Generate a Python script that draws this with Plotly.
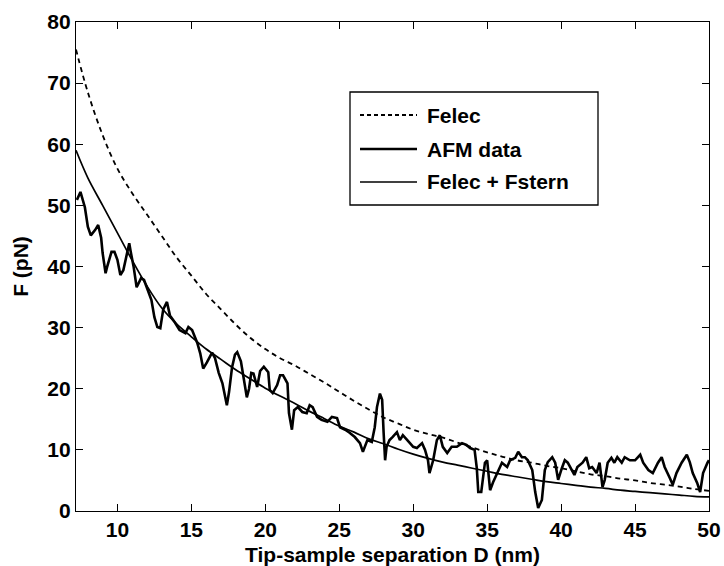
import plotly.graph_objects as go

# ---- data ----
model_D = [7.2, 8, 9, 10, 11, 12, 13, 14, 15, 16, 17, 18, 19, 20, 21, 22, 23, 24, 25,
           26, 27, 28, 29, 30, 31, 32, 33, 34, 35, 36, 37, 38, 39, 40, 41, 42, 43, 44,
           45, 46, 47, 48, 49, 50]
felec = [75.5, 68.5, 61.5, 56.0, 52.0, 48.5, 45.0, 41.5, 38.5, 35.5, 33.0, 30.5, 28.3,
         26.5, 25.0, 23.8, 22.4, 21.0, 19.5, 18.0, 16.6, 15.3, 14.3, 13.3, 12.6, 12.0,
         11.2, 10.4, 9.6, 8.9, 8.3, 7.9, 7.4, 7.0, 6.5, 6.0, 5.7, 5.3, 5.0, 4.6, 4.3,
         4.0, 3.6, 3.3]
felec_fstern = [59.0, 54.5, 50.0, 45.5, 41.0, 36.8, 33.2, 30.6, 28.5, 26.5, 24.8, 23.1,
                21.6, 20.1, 18.8, 17.6, 16.3, 15.1, 13.9, 12.9, 11.8, 11.0, 10.1, 9.3,
                8.6, 8.0, 7.5, 7.0, 6.5, 6.0, 5.6, 5.2, 4.8, 4.5, 4.2, 3.9, 3.7, 3.4,
                3.2, 3.0, 2.8, 2.6, 2.4, 2.3]

afm_D = [7.26, 7.5, 7.8, 8.0, 8.2, 8.5, 8.7, 8.9, 9.0, 9.2, 9.3, 9.6, 9.8, 10.0, 10.2,
         10.4, 10.6, 10.8, 10.9, 11.1, 11.3, 11.6, 11.8, 12.0, 12.3, 12.5, 12.7, 12.9,
         13.1, 13.35, 13.55, 13.9, 14.2, 14.6, 14.8, 15.05, 15.4, 15.6, 15.8, 16.05,
         16.4, 16.6, 16.85, 17.1, 17.4, 17.55, 17.75, 17.95, 18.1, 18.35, 18.55, 18.75,
         18.9, 19.05, 19.2, 19.45, 19.65, 19.9, 20.2, 20.3, 20.5, 20.8, 21.0, 21.2, 21.5,
         21.6, 21.8, 21.95, 22.2, 22.5, 22.8, 23.0, 23.2, 23.5, 23.8, 24.2, 24.5, 24.85,
         25.05, 25.4, 25.7, 26.05, 26.4, 26.6, 26.9, 27.2, 27.4, 27.55, 27.75, 27.9,
         28.0, 28.1, 28.2, 28.4, 28.6, 28.9, 29.1, 29.3, 29.6, 29.8, 30.0, 30.25, 30.6,
         30.8, 31.0, 31.1, 31.35, 31.6, 31.8, 32.0, 32.3, 32.6, 32.95, 33.3, 33.6, 33.85,
         34.15, 34.3, 34.4, 34.6, 34.85, 35.0, 35.2, 35.4, 35.7, 36.0, 36.35, 36.55,
         36.9, 37.1, 37.35, 37.55, 37.75, 38.05, 38.25, 38.45, 38.7, 38.8, 38.9, 39.1,
         39.4, 39.6, 39.8, 40.05, 40.25, 40.45, 40.7, 40.9, 41.1, 41.45, 41.7, 41.9,
         42.1, 42.4, 42.6, 42.8, 42.95, 43.15, 43.4, 43.6, 43.8, 44.1, 44.3, 44.65, 45.0,
         45.35, 45.55, 45.9, 46.2, 46.55, 46.8, 47.0, 47.35, 47.55, 47.8, 48.15, 48.5,
         48.7, 48.9, 49.2, 49.4, 49.6, 49.9, 50.0]
afm_F = [50.9, 52.2, 49.7, 46.5, 45.1, 46.0, 46.8, 44.7, 42.2, 38.9, 39.9, 42.4, 42.4,
         41.1, 38.6, 39.4, 41.6, 43.8, 42.4, 39.9, 36.6, 38.1, 37.8, 36.6, 34.5, 31.7,
         30.1, 29.9, 33.0, 34.2, 32.0, 30.8, 29.6, 29.1, 30.1, 29.6, 27.5, 25.8, 23.3,
         24.3, 25.9, 25.0, 22.6, 20.9, 17.3, 19.5, 23.5, 25.6, 26.0, 24.5, 21.4, 18.6,
         20.0, 22.6, 22.5, 20.3, 22.9, 23.6, 22.7, 19.8, 19.3, 20.6, 22.2, 22.2, 20.9,
         16.0, 13.3, 16.5, 17.0, 16.2, 16.0, 17.3, 17.0, 15.4, 14.9, 14.6, 15.4, 15.2,
         13.7, 13.3, 12.8, 12.1, 11.1, 9.7, 11.6, 11.3, 13.7, 17.0, 19.2, 18.2, 12.8,
         8.3, 10.5, 11.6, 12.1, 12.9, 11.6, 12.4, 11.6, 11.1, 10.5, 10.3, 11.1, 10.0,
         8.3, 6.2, 8.3, 11.6, 12.4, 10.5, 9.5, 10.5, 10.5, 11.1, 10.8, 10.3, 10.0, 7.0,
         3.1, 3.1, 7.9, 8.3, 3.4, 4.7, 6.2, 7.9, 7.2, 8.3, 8.7, 9.7, 8.8, 8.8, 8.3, 6.7,
         3.1, 0.5, 1.8, 4.3, 6.7, 8.0, 8.8, 7.9, 5.1, 7.0, 8.3, 7.9, 6.7, 5.9, 7.2, 7.9,
         8.8, 7.0, 7.2, 6.2, 7.9, 3.9, 5.1, 7.9, 8.7, 7.9, 8.8, 7.9, 8.8, 8.3, 8.3, 9.2,
         7.9, 6.7, 6.2, 7.9, 8.8, 7.2, 5.4, 4.3, 6.2, 7.9, 9.2, 8.0, 6.2, 4.6, 3.1, 6.2,
         7.9, 8.3]

x_ticks = [10, 15, 20, 25, 30, 35, 40, 45, 50]
y_ticks = [0, 10, 20, 30, 40, 50, 60, 70, 80]
legend_names = ["Felec", "AFM data", "Felec + Fstern"]

FONT = "Liberation Sans, Arial, sans-serif"

fig = go.Figure()
fig.add_trace(go.Scatter(x=model_D, y=felec, mode="lines", name=legend_names[0],
                         line=dict(color="black", width=1.8, dash="5px,4px", shape="spline")))
fig.add_trace(go.Scatter(x=afm_D, y=afm_F, mode="lines", name=legend_names[1],
                         line=dict(color="black", width=2.6)))
fig.add_trace(go.Scatter(x=model_D, y=felec_fstern, mode="lines", name=legend_names[2],
                         line=dict(color="black", width=1.7, shape="spline")))

# plot-area geometry in pixels (for the hand-drawn legend box)
L, R, T, B = 76, 709, 22, 511
def px(xp):
    return (xp - L) / (R - L)
def py(yp):
    return (B - yp) / (B - T)

shapes = [dict(type="rect", xref="paper", yref="paper", x0=px(350), x1=px(598),
               y0=py(205), y1=py(92), line=dict(color="black", width=1.3),
               fillcolor="white", layer="above")]
ann = []
rows = [115, 149, 182]
styles = [dict(dash="4px,3px", width=1.8), dict(dash="solid", width=2.6),
          dict(dash="solid", width=1.7)]
for name, yy, st in zip(legend_names, rows, styles):
    shapes.append(dict(type="line", xref="paper", yref="paper", x0=px(360), x1=px(417),
                       y0=py(yy), y1=py(yy), layer="above",
                       line=dict(color="black", width=st["width"], dash=st["dash"])))
    ann.append(dict(xref="paper", yref="paper", x=px(425), y=py(yy), text=name,
                    showarrow=False, xanchor="left", yanchor="middle",
                    font=dict(family=FONT, size=21, color="black", weight="bold")))

axis_common = dict(showline=True, linecolor="black", linewidth=1.4, mirror="ticks",
                   ticks="inside", ticklen=7, tickcolor="black", tickwidth=1.2,
                   showgrid=False, zeroline=False,
                   tickfont=dict(family=FONT, size=21, color="black", weight="bold"))

fig.update_layout(
    width=724, height=566,
    margin=dict(l=L, r=724 - R, t=T, b=566 - B),
    paper_bgcolor="white", plot_bgcolor="white",
    showlegend=False,
    shapes=shapes, annotations=ann,
    xaxis=dict(range=[7.2, 50], tickvals=x_ticks, ticktext=[str(v) for v in x_ticks],
               title=dict(text="Tip-sample separation D (nm)", standoff=8,
                          font=dict(family=FONT, size=21, color="black", weight="bold")),
               automargin=False, **axis_common),
    yaxis=dict(range=[0, 80], tickvals=y_ticks, ticktext=[str(v) for v in y_ticks],
               title=dict(text="F (pN)", standoff=12,
                          font=dict(family=FONT, size=21, color="black", weight="bold")),
               automargin=False, **axis_common),
)

fig.write_html("out.html", config={"displayModeBar": False},
               post_script="document.body.style.margin='0';")
